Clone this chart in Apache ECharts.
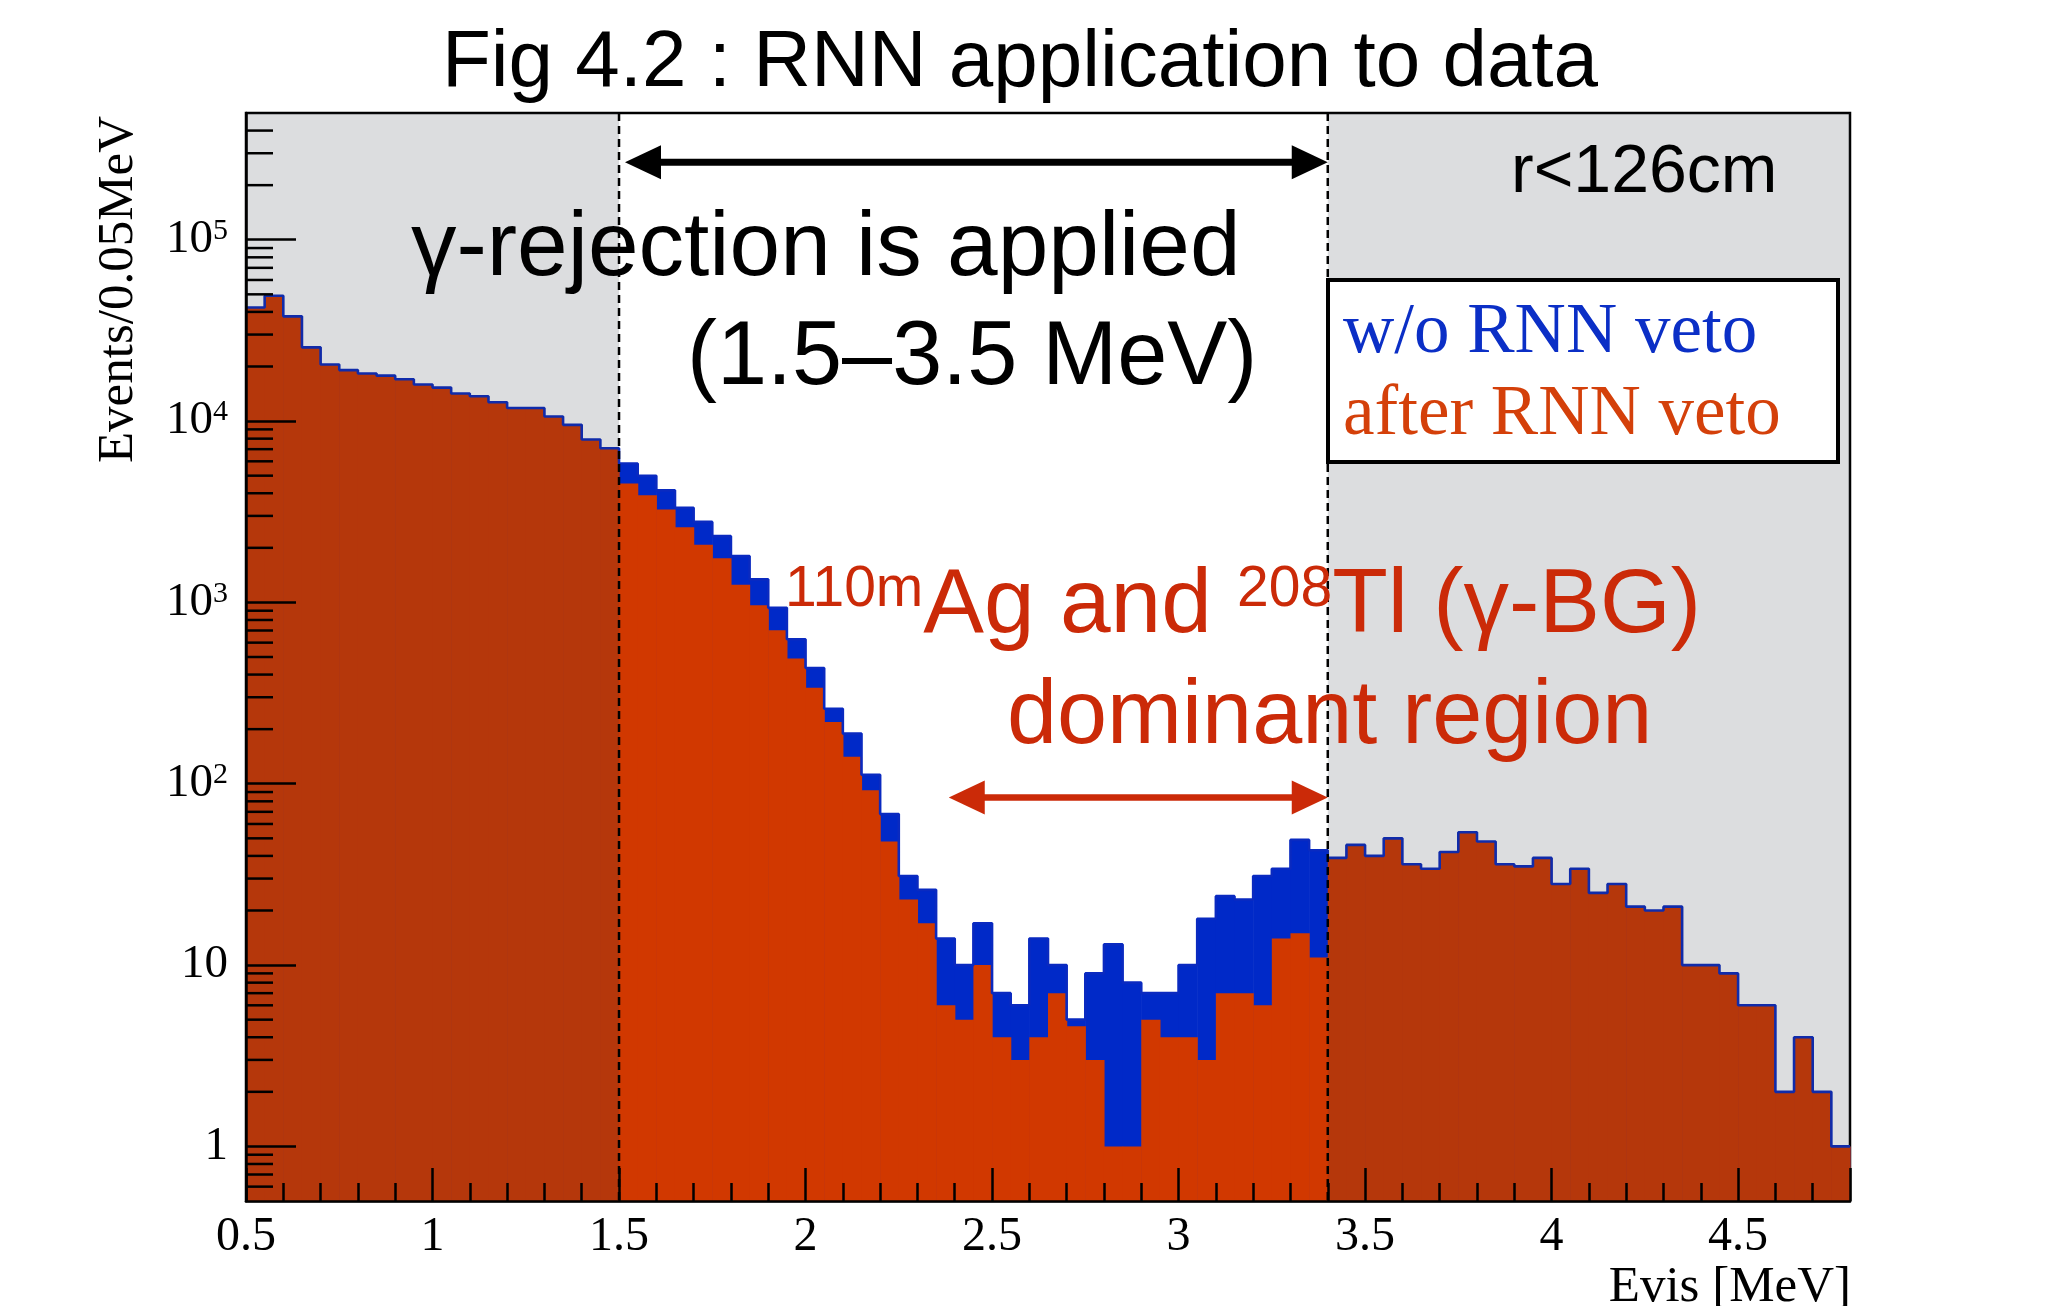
<!DOCTYPE html>
<html>
<head>
<meta charset="utf-8">
<title>Fig 4.2 : RNN application to data</title>
<script src="https://cdn.jsdelivr.net/npm/echarts@6/dist/echarts.min.js"></script>
<style>
  html, body { margin: 0; padding: 0; background: #fff; }
  #chart { width: 2070px; height: 1306px; }
</style>
</head>
<body>
<div id="chart"></div>
<script>
(() => {

    const X_START = 0.5;
    const X_END = 4.8;
    const BIN_WIDTH = 0.05;
    const Y_MIN = 0.5;
    const Y_MAX = 5e5;

    // events per 0.05 MeV bin, first bin starts at 0.50 MeV
    const woVeto = [
        42300, 49100, 37800, 25500, 20500, 19100, 18300, 17800, 17000, 15900,
        15300, 14200, 13700, 12700, 11800, 11800, 10600, 9530, 7910, 7080,
        5830, 4990, 4150, 3330, 2780, 2320, 1800, 1340, 933, 626,
        435, 259, 189, 112, 68, 31, 26, 14, 10, 17,
        7, 6, 14, 10, 5, 9, 13, 8, 7, 7,
        10, 18, 24, 23, 31, 34, 49, 43, 39, 46,
        40, 50, 36, 34, 42, 54, 48, 36, 35, 39,
        28, 34, 25, 28, 21, 20, 21, 10, 10, 9,
        6, 6, 2, 4, 2, 1
    ];
    const afterVeto = [
        42300, 49100, 37800, 25500, 20500, 19100, 18300, 17800, 17000, 15900,
        15300, 14200, 13700, 12700, 11800, 11800, 10600, 9530, 7910, 7080,
        4520, 3900, 3250, 2600, 2080, 1750, 1250, 964, 702, 490,
        338, 219, 141, 92, 48, 23, 17, 6, 5, 10,
        4, 3, 4, 7, 4.6, 3, 1, 1, 5, 4,
        4, 3, 7, 7, 6, 14, 15, 11, 39, 46,
        40, 50, 36, 34, 42, 54, 48, 36, 35, 39,
        28, 34, 25, 28, 21, 20, 21, 10, 10, 9,
        6, 6, 2, 4, 2, 1
    ];

    const vetoEdges = [1.5, 3.4];
    const shadedRanges = [[0.5, 1.5], [3.4, 4.8]];
    // [from, to, height] of the two annotation arrows
    const arrows = [[1.516, 3.4, 2.676e5], [2.384, 3.4, 84]];
    const arrowColors = ['#000000', '#cb2a08'];
    const arrowWidths = [7, 6.5];

    const xTickValues = [0.5, 1, 1.5, 2, 2.5, 3, 3.5, 4, 4.5];
    const xTickLabels = ['0.5', '1', '1.5', '2', '2.5', '3', '3.5', '4', '4.5'];
    const yTickValues = [1, 10, 100, 1000, 10000, 100000];
    const yTickLabels = ['{b|1}', '{b|10}', '{b|10}{s|2}', '{b|10}{s|3}', '{b|10}{s|4}', '{b|10}{s|5}'];
    const yMinorSteps = [2, 3, 4, 5, 6, 7, 8, 9];
    const yDecades = [0.1, 1, 10, 100, 1000, 10000, 100000];

    const binStarts = woVeto.map((_, i) => +(X_START + i * BIN_WIDTH).toFixed(2));
    const yMinorTicks = [];
    yDecades.forEach(d => yMinorSteps.forEach(s => {
        const v = d * s;
        if (v > Y_MIN * 1.0001 && v < Y_MAX * 0.9999) yMinorTicks.push(v);
    }));

    const chart = echarts.init(document.getElementById('chart'));

    function histRect(color) {
        return (params, api) => {
            const top = api.coord([api.value(0), api.value(2)]);
            const bottom = api.coord([api.value(1), Y_MIN]);
            return {
                type: 'rect',
                shape: { x: top[0], y: top[1], width: bottom[0] - top[0] + 0.6, height: bottom[1] - top[1] },
                style: { fill: color }
            };
        };
    }

    const serifFont = '"Liberation Serif", "Times New Roman", serif';
    const sansFont = '"Liberation Sans", Arial, Helvetica, sans-serif';

    const option = {
        animation: false,
        backgroundColor: '#ffffff',
        grid: {
            left: 246, right: 220, top: 113, bottom: 105,
            show: true, borderColor: '#000', borderWidth: 2.5, backgroundColor: '#ffffff'
        },
        xAxis: {
            type: 'value', min: X_START, max: X_END, interval: 0.5, z: 10,
            axisLine: { show: true, onZero: false, lineStyle: { color: '#000', width: 2.5 } },
            axisTick: { show: true, inside: true, length: 33, lineStyle: { color: '#000', width: 2.5 } },
            minorTick: { show: true, splitNumber: 5, length: 18, lineStyle: { color: '#000', width: 2.5 } },
            splitLine: { show: false },
            axisLabel: {
                margin: 12, color: '#000', fontFamily: serifFont, fontSize: 48,
                showMaxLabel: false,
                formatter: v => {
                    const i = xTickValues.findIndex(t => Math.abs(t - v) < 1e-6);
                    return i < 0 ? '' : xTickLabels[i];
                }
            }
        },
        yAxis: {
            type: 'log', logBase: 10, min: Y_MIN, max: Y_MAX, z: 10,
            axisLine: { show: true, onZero: false, lineStyle: { color: '#000', width: 2.5 } },
            axisTick: { show: true, inside: true, length: 50, lineStyle: { color: '#000', width: 2.5 } },
            splitLine: { show: false },
            axisLabel: {
                margin: 18, color: '#000',
                showMinLabel: false, showMaxLabel: false,
                formatter: v => {
                    const i = yTickValues.findIndex(t => Math.abs(t - v) < t * 1e-6);
                    return i < 0 ? '' : yTickLabels[i];
                },
                rich: {
                    b: { fontFamily: serifFont, fontSize: 47, lineHeight: 47, color: '#000' },
                    s: { fontFamily: serifFont, fontSize: 30, lineHeight: 18, verticalAlign: 'top', color: '#000' }
                }
            }
        },
        series: [
            {
                name: 'w/o RNN veto', type: 'custom', z: 2,
                renderItem: histRect('#0029c8'),
                encode: { x: [0, 1], y: 2 },
                data: woVeto.map((v, i) => [binStarts[i], binStarts[i] + BIN_WIDTH, v])
            },
            {
                name: 'after RNN veto', type: 'custom', z: 3,
                renderItem: histRect('#d13800'),
                encode: { x: [0, 1], y: 2 },
                data: afterVeto.map((v, i) => [binStarts[i], binStarts[i] + BIN_WIDTH, v])
            },
            {
                // outline of the w/o veto histogram
                type: 'line', z: 4, step: 'end', symbol: 'none',
                lineStyle: { color: '#0a2ac0', width: 2.6 },
                data: binStarts.map((x, i) => [x, woVeto[i]]).concat([[X_END, woVeto[woVeto.length - 1]]])
            },
            {
                // grey shading outside the veto window
                type: 'custom', z: 5,
                renderItem: (params, api) => {
                    const a = api.coord([api.value(0), Y_MAX]);
                    const b = api.coord([api.value(1), Y_MIN]);
                    return {
                        type: 'rect',
                        shape: { x: a[0], y: a[1], width: b[0] - a[0], height: b[1] - a[1] },
                        style: { fill: 'rgba(50,56,68,0.17)' }
                    };
                },
                encode: { x: [0, 1] },
                data: shadedRanges
            },
            {
                // dashed veto window edges
                type: 'custom', z: 6,
                renderItem: (params, api) => {
                    const a = api.coord([api.value(0), Y_MAX]);
                    const b = api.coord([api.value(0), Y_MIN]);
                    return {
                        type: 'line',
                        shape: { x1: a[0], y1: a[1], x2: b[0], y2: b[1] },
                        style: { stroke: '#000', lineWidth: 2.5, lineDash: [8, 5] }
                    };
                },
                encode: { x: 0 },
                data: vetoEdges.map(v => [v])
            },
            {
                type: 'custom', z: 7,
                renderItem: (params, api) => {
                    const a = api.coord([api.value(0), api.value(2)]);
                    const b = api.coord([api.value(1), api.value(2)]);
                    const color = arrowColors[params.dataIndex];
                    const L = 36, W = 17, y = a[1];
                    return {
                        type: 'group',
                        children: [
                            { type: 'line', shape: { x1: a[0] + L - 2, y1: y, x2: b[0] - L + 2, y2: y },
                              style: { stroke: color, lineWidth: arrowWidths[params.dataIndex] } },
                            { type: 'polygon', shape: { points: [[a[0], y], [a[0] + L, y - W], [a[0] + L, y + W]] },
                              style: { fill: color } },
                            { type: 'polygon', shape: { points: [[b[0], y], [b[0] - L, y - W], [b[0] - L, y + W]] },
                              style: { fill: color } }
                        ]
                    };
                },
                encode: { x: [0, 1], y: 2 },
                data: arrows
            },
            {
                // log minor ticks on the y axis
                type: 'custom', z: 9,
                renderItem: (params, api) => {
                    const p = api.coord([X_START, api.value(1)]);
                    return {
                        type: 'line',
                        shape: { x1: p[0], y1: p[1], x2: p[0] + 27, y2: p[1] },
                        style: { stroke: '#000', lineWidth: 2.5 }
                    };
                },
                encode: { x: 0, y: 1 },
                data: yMinorTicks.map(v => [X_START, v])
            }
        ],
        graphic: [
            { type: 'text', z: 20, x: 1020, y: 64,
              style: { text: 'Fig 4.2 : RNN application to data', font: '80px ' + sansFont, fill: '#000', align: 'center', verticalAlign: 'middle' } },
            { type: 'text', z: 20, x: 119, y: 116, rotation: Math.PI / 2,
              style: { text: 'Events/0.05MeV', font: '51px ' + serifFont, fill: '#000', align: 'right', verticalAlign: 'middle' } },
            { type: 'text', z: 20, x: 1851, y: 1288,
              style: { text: 'Evis [MeV]', font: '51px ' + serifFont, fill: '#000', align: 'right', verticalAlign: 'middle' } },
            { type: 'text', z: 20, x: 1511, y: 173,
              style: { text: 'r<126cm', font: '68px ' + sansFont, fill: '#000', align: 'left', verticalAlign: 'middle' } },
            { type: 'text', z: 20, x: 411, y: 250,
              style: { text: 'γ-rejection is applied', font: '91px ' + sansFont, fill: '#000', align: 'left', verticalAlign: 'middle' } },
            { type: 'text', z: 20, x: 687, y: 359,
              style: { text: '(1.5–3.5 MeV)', font: '90px ' + sansFont, fill: '#000', align: 'left', verticalAlign: 'middle' } },
            { type: 'text', z: 20, x: 785, y: 607,
              style: {
                  text: '{sup|110m}{main|Ag and }{sup|208}{main|Tl (γ-BG)}',
                  align: 'left', verticalAlign: 'middle',
                  rich: {
                      main: { fontFamily: sansFont, fontSize: 91, lineHeight: 91, fill: '#cb2a08', verticalAlign: 'middle' },
                      sup: { fontFamily: sansFont, fontSize: 57, lineHeight: 72, fill: '#cb2a08', verticalAlign: 'top' }
                  }
              } },
            { type: 'text', z: 20, x: 1007, y: 718,
              style: { text: 'dominant region', font: '90px ' + sansFont, fill: '#cb2a08', align: 'left', verticalAlign: 'middle' } },
            { type: 'rect', z: 19, shape: { x: 1328, y: 280, width: 510, height: 182 },
              style: { fill: '#fff', stroke: '#000', lineWidth: 4 } },
            { type: 'text', z: 20, x: 1343, y: 333,
              style: { text: 'w/o RNN veto', font: '71px ' + serifFont, fill: '#0b2fc6', align: 'left', verticalAlign: 'middle' } },
            { type: 'text', z: 20, x: 1343, y: 415,
              style: { text: 'after RNN veto', font: '71px ' + serifFont, fill: '#d4400a', align: 'left', verticalAlign: 'middle' } }
        ]
    };

    chart.setOption(option);
})();
</script>
</body>
</html>
